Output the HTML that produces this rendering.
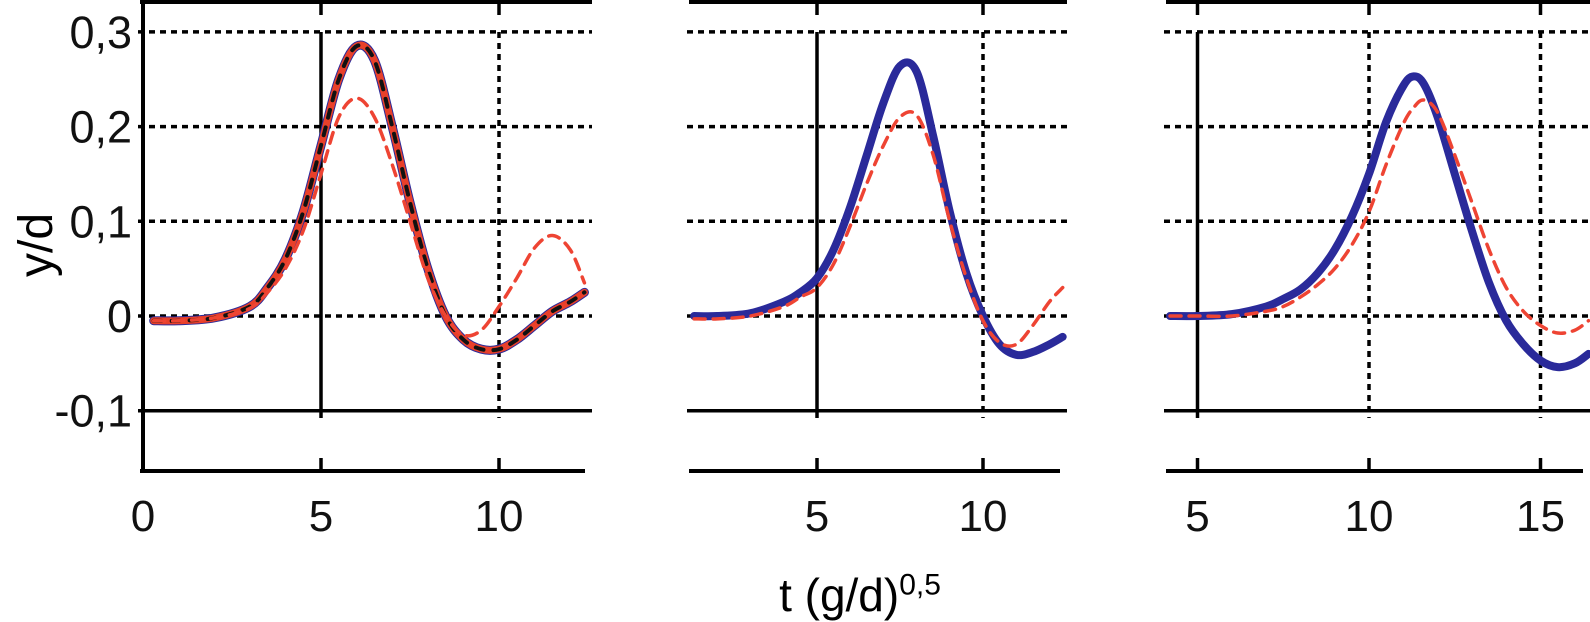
<!DOCTYPE html>
<html><head><meta charset="utf-8"><style>
body{margin:0;background:#fff}
svg{display:block}
text{font-family:"Liberation Sans",sans-serif;fill:#111}
</style></head><body>
<svg id="c" width="1590" height="619" viewBox="0 0 1590 619"></svg>
<script>
const yTicks=[0.3,0.2,0.1,0,-0.1];
const yTickLabels=["0,3","0,2","0,1","0","-0,1"];
const t1=[0.3,1,2,3,3.5,4,4.5,5,5.5,6,6.5,7,7.5,8,8.5,9,9.5,10,10.5,11,11.5,12,12.4];
const main1=[-0.005,-0.005,-0.002,0.01,0.03,0.06,0.11,0.18,0.25,0.285,0.27,0.2,0.12,0.05,0.0,-0.025,-0.035,-0.035,-0.025,-0.01,0.005,0.015,0.025];
const thin1=[-0.005,-0.005,-0.002,0.008,0.025,0.05,0.09,0.15,0.21,0.23,0.21,0.16,0.1,0.04,0.0,-0.02,-0.015,0.01,0.04,0.072,0.085,0.07,0.035];
const t2=[1.3,2,3,4,4.5,5,5.5,6,6.5,7,7.5,8,8.5,9,9.5,10,10.5,11,11.5,12,12.4];
const blue2=[0,0,0.003,0.015,0.025,0.04,0.07,0.115,0.17,0.225,0.264,0.258,0.19,0.11,0.045,0.0,-0.03,-0.041,-0.038,-0.03,-0.022];
const red2=[-0.003,-0.003,0,0.01,0.02,0.03,0.055,0.095,0.14,0.18,0.21,0.212,0.17,0.1,0.04,-0.005,-0.028,-0.03,-0.01,0.015,0.03];
const t3=[4.2,5,6,7,7.5,8,8.5,9,9.5,10,10.5,11,11.3,11.6,12,12.5,13,13.5,14,14.5,15,15.5,16,16.4];
const blue3=[0,0,0.002,0.01,0.018,0.028,0.045,0.07,0.105,0.15,0.205,0.243,0.253,0.245,0.21,0.15,0.09,0.035,-0.005,-0.03,-0.047,-0.054,-0.05,-0.04];
const red3=[0,0,0,0.005,0.01,0.02,0.033,0.05,0.075,0.11,0.16,0.203,0.22,0.228,0.215,0.17,0.12,0.07,0.03,0.005,-0.01,-0.018,-0.015,-0.005];
const xTicks1=[0,5,10], xTicks2=[5,10], xTicks3=[5,10,15];

const NS="http://www.w3.org/2000/svg";
const svg=document.getElementById('c');
function el(tag,attrs,parent){const e=document.createElementNS(NS,tag);for(const k in attrs)e.setAttribute(k,attrs[k]);(parent||svg).appendChild(e);return e;}
const Y=v=>316-v*947;
const panels=[
 {name:'panel-1',x0:143,k:35.6,L:143,R:592,ticks:xTicks1,solid:[5],axis:true,
  series:[{t:t1,v:main1,c:'#2a2a9a',w:9},{t:t1,v:main1,c:'#e8402a',w:7},{t:t1,v:main1,c:'#111',w:4,d:'8 10'},{t:t1,v:thin1,c:'#ee4433',w:3.5,d:'11 8'}]},
 {name:'panel-2',x0:651,k:33.2,L:692,R:1067,ticks:xTicks2,solid:[5],
  series:[{t:t2,v:blue2,c:'#2a2a9a',w:8},{t:t2,v:red2,c:'#ee4433',w:3.5,d:'11 8'}]},
 {name:'panel-3',x0:1026,k:34.3,L:1169,R:1590,ticks:xTicks3,solid:[5],
  series:[{t:t3,v:blue3,c:'#2a2a9a',w:8},{t:t3,v:red3,c:'#ee4433',w:3.5,d:'11 8'}]}
];
function path(xs,ys){
 let d=`M${xs[0]},${ys[0]}`;
 for(let i=0;i<xs.length-1;i++){
  const p0=i?i-1:i,p3=i+2<xs.length?i+2:i+1;
  const c1x=xs[i]+(xs[i+1]-xs[p0])/6,c1y=ys[i]+(ys[i+1]-ys[p0])/6;
  const c2x=xs[i+1]-(xs[p3]-xs[i])/6,c2y=ys[i+1]-(ys[p3]-ys[i])/6;
  d+=` C${c1x},${c1y} ${c2x},${c2y} ${xs[i+1]},${ys[i+1]}`;
 }
 return d;
}
panels.forEach((p,pi)=>{
 const g=el('g',{});
 
 
 const X=t=>p.x0+t*p.k;
 const cid='clip'+pi;
 const cp=el('clipPath',{id:cid},g);el('rect',{x:p.L-6,y:0,width:p.R-p.L+12,height:480},cp);
 yTicks.forEach((v,i)=>{
  const ln=el('line',{x1:p.L-5,x2:p.R,y1:Y(v),y2:Y(v),stroke:'#000','stroke-width':3.5,'stroke-dasharray':v===-0.1?'none':'6 5'},g);
  
  
 });
 el('line',{x1:p.L-3,x2:p.R,y1:2,y2:2,stroke:'#000','stroke-width':4},g);
 el('line',{x1:p.L-3,x2:p.R-7,y1:471,y2:471,stroke:'#000','stroke-width':4},g);
 if(p.axis){const a=el('line',{x1:p.L,x2:p.L,y1:0,y2:473,stroke:'#000','stroke-width':4},g);
  }
 p.ticks.forEach(t=>{
  const x=X(t);
  if(t>0){
   const solid=p.solid.includes(t);
   el('line',{x1:x,x2:x,y1:32,y2:418,stroke:'#000','stroke-width':3.5,'stroke-dasharray':solid?'none':'6 5'},g);
   el('line',{x1:x,x2:x,y1:2,y2:15,stroke:'#000','stroke-width':3.5},g);
   el('line',{x1:x,x2:x,y1:458,y2:471,stroke:'#000','stroke-width':3.5},g);
  }
  const tx=el('text',{x:x,y:531,'text-anchor':'middle','font-size':44},g);
  tx.textContent=t;
  
  
 });
 const sg=el('g',{'clip-path':`url(#${cid})`},g);
 p.series.forEach(s=>{
  const pa=el('path',{d:path(s.t.map(X),s.v.map(Y)),fill:'none',stroke:s.c,'stroke-width':s.w,'stroke-linecap':'round','stroke-linejoin':'round'},sg);
  if(s.d)pa.setAttribute('stroke-dasharray',s.d);
  
  
 });
});
yTicks.forEach((v,i)=>{
 const tx=el('text',{x:132,y:Y(v)+16,'text-anchor':'end','font-size':45});
 tx.textContent=yTickLabels[i];
 
 
});
</script>
<div style="position:absolute;left:0;top:0;width:1590px;height:619px;pointer-events:none">
<div style="position:absolute;left:-3px;top:218px;width:80px;height:54px;transform:rotate(-90deg);font:48px 'Liberation Sans',sans-serif;text-align:center;line-height:54px">y/d</div>
<div style="position:absolute;left:720px;top:568px;width:280px;font:46px 'Liberation Sans',sans-serif;text-align:center">t (g/d)<sup style="font-size:30px">0,5</sup></div>
</div>
</body></html>
